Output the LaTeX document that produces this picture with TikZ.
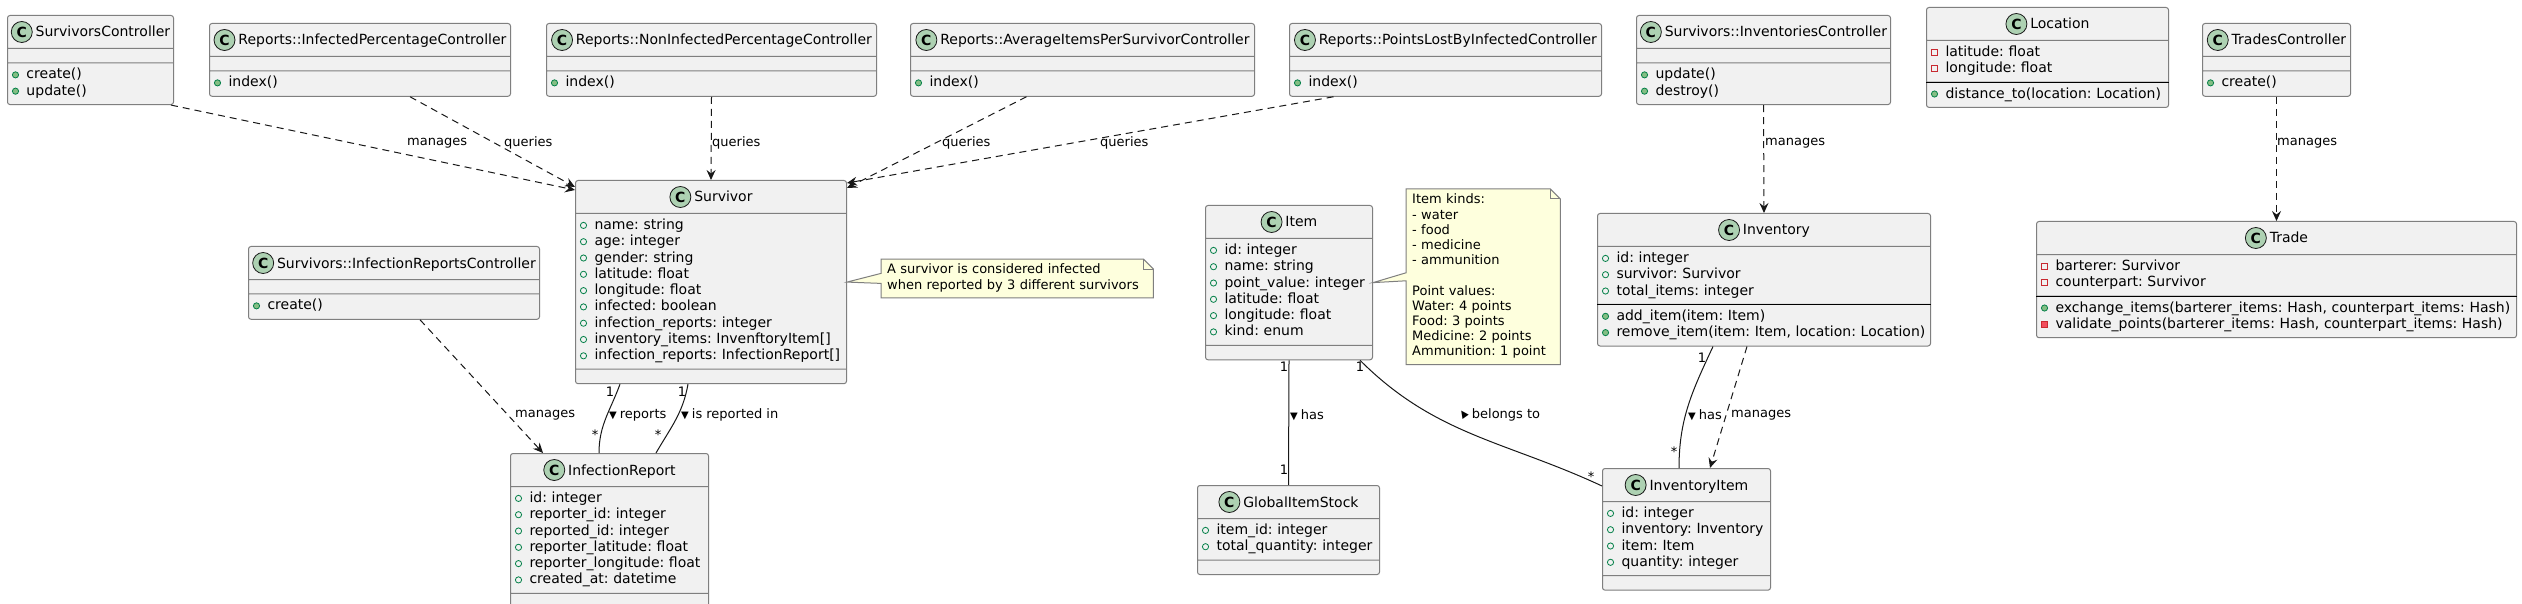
\documentclass[tikz,border=0pt]{standalone}
\usepackage{fontspec}
\usepackage{graphicx}
\setmainfont{DejaVu Sans}
\usepackage{tikz}
\usetikzlibrary{shapes.multipart, arrows.meta}
\frenchspacing

\definecolor{classfill}{HTML}{F1F1F1}
\definecolor{classline}{HTML}{7F7F7F}
\definecolor{linkline}{HTML}{181818}
\definecolor{spotfill}{HTML}{ADD1B2}
\definecolor{notefill}{HTML}{FEFFDD}
\definecolor{publine}{HTML}{038048}
\definecolor{pubfill}{HTML}{84BE84}
\definecolor{privline}{HTML}{C82930}
\definecolor{privfill}{HTML}{F24D5C}

% class icon and visibility marks
\newcommand{\classicon}{\tikz[baseline=6pt]{\filldraw[fill=spotfill, draw=linkline, line width=0.8pt] (0pt,11pt) circle (10.5pt); \pgftext[at={\pgfpoint{0pt}{11pt}}]{\fontsize{14}{14}\selectfont\bfseries C}}}
\newcommand{\classhead}[1]{\noindent\makebox[\hsize][c]{\classicon\kern3pt #1\rule[-7pt]{0pt}{24pt}}}
\newcommand{\pubfield}[1]{\noindent\strut\tikz[baseline=-4pt]{\path (-4pt,-4pt) rectangle (4pt,4pt); \draw[publine, line width=0.8pt] (0pt,0pt) circle (3.1pt);}\kern7pt\mbox{#1}}
\newcommand{\pubmethod}[1]{\noindent\strut\tikz[baseline=-4pt]{\path (-4pt,-4pt) rectangle (4pt,4pt); \filldraw[fill=pubfill, draw=publine, line width=0.8pt] (0pt,0pt) circle (3.1pt);}\kern7pt\mbox{#1}}
\newcommand{\privfield}[1]{\noindent\strut\tikz[baseline=-4pt]{\path (-4pt,-4pt) rectangle (4pt,4pt); \draw[privline, line width=0.8pt, sharp corners] (-2.9pt,-2.9pt) rectangle (2.9pt,2.9pt);}\kern7pt\mbox{#1}}
\newcommand{\privmethod}[1]{\noindent\strut\tikz[baseline=-4pt]{\path (-4pt,-4pt) rectangle (4pt,4pt); \filldraw[fill=privfill, draw=privline, line width=0.8pt, sharp corners] (-2.9pt,-2.9pt) rectangle (2.9pt,2.9pt);}\kern7pt\mbox{#1}}
\newcommand{\dirdown}{{\fontsize{10}{10}\selectfont ▼}\kern3pt}
\newcommand{\dirup}{\rotatebox{35}{\fontsize{10}{10}\selectfont ▲}\kern3pt}

\begin{document}
\begin{tikzpicture}[x=1pt, y=1pt]
        % Setup the styles for classes, notes and links
        \tikzset{classbox/.style={rectangle split,
                                  rectangle split parts=3,
                                  rectangle split empty part height=0pt,
                                  rectangle split empty part depth=0pt,
                                  draw=classline, line width=1pt,
                                  fill=classfill, rounded corners=2.5pt,
                                  anchor=north west, align=left,
                                  inner xsep=4pt, inner ysep=4pt,
                                  font=\fontsize{14}{16.3}\selectfont}}
        \tikzset{notetext/.style={anchor=north west, align=left,
                                  fill=notefill, inner xsep=6pt, inner ysep=4pt,
                                  font=\fontsize{13}{15.2}\selectfont}}
        \tikzset{noteline/.style={draw=classline, line width=1pt}}
        \tikzset{sepline/.style={draw=black, line width=1pt}}
        \tikzset{dep/.style={draw=linkline, line width=1pt,
                             dash pattern=on 7pt off 5pt,
                             -{Stealth[length=10pt, width=9pt, inset=3.5pt]}}}
        \tikzset{assoc/.style={draw=linkline, line width=1pt}}
        \tikzset{elabel/.style={anchor=west, inner sep=0pt,
                                font=\fontsize{13}{15}\selectfont}}
        \tikzset{mult/.style={inner sep=0pt, font=\fontsize{13}{15}\selectfont}}

        \fill[white] (0,0) rectangle (2522,-604);
        \useasboundingbox (0,0) rectangle (2522,-604);

        % Draw the controllers
        \node[classbox, text width=158pt] (survivorsctrl) at (7,-15)
            {\classhead{SurvivorsController}\nodepart{three}\pubmethod{create()}\\
             \pubmethod{update()}};
        \node[classbox, text width=293pt] (infectedpct) at (209,-23)
            {\classhead{Reports::InfectedPercentageController}\nodepart{three}\pubmethod{index()}};
        \node[classbox, text width=322pt] (noninfectedpct) at (546,-23)
            {\classhead{Reports::NonInfectedPercentageController}\nodepart{three}\pubmethod{index()}};
        \node[classbox, text width=336pt] (averageitems) at (910,-23)
            {\classhead{Reports::AverageItemsPerSurvivorController}\nodepart{three}\pubmethod{index()}};
        \node[classbox, text width=304pt] (pointslost) at (1289,-23)
            {\classhead{Reports::PointsLostByInfectedController}\nodepart{three}\pubmethod{index()}};
        \node[classbox, text width=246pt] (inventoriesctrl) at (1636,-15)
            {\classhead{Survivors::InventoriesController}\nodepart{three}\pubmethod{update()}\\
             \pubmethod{destroy()}};
        \node[classbox, text width=140pt] (tradesctrl) at (2202,-23)
            {\classhead{TradesController}\nodepart{three}\pubmethod{create()}};
        \node[classbox, text width=283pt] (infectionreportsctrl) at (248,-246)
            {\classhead{Survivors::InfectionReportsController}\nodepart{three}\pubmethod{create()}};

        % Draw the model classes
        \node[classbox, text width=234pt] (location) at (1926,-7)
            {\classhead{Location}\nodepart{two}\privfield{latitude: float}\\
             \privfield{longitude: float}\nodepart{three}\pubmethod{distance\_to(location: Location)}};
        \node[classbox, text width=263pt] (survivor) at (575,-180)
            {\classhead{Survivor}\nodepart{two}\pubfield{name: string}\\
             \pubfield{age: integer}\\
             \pubfield{gender: string}\\
             \pubfield{latitude: float}\\
             \pubfield{longitude: float}\\
             \pubfield{infected: boolean}\\
             \pubfield{infection\_reports: integer}\\
             \pubfield{inventory\_items: InvenftoryItem[]}\\
             \pubfield{infection\_reports: InfectionReport[]}};
        \node[classbox, text width=190pt] (infectionreport) at (510,-453)
            {\classhead{InfectionReport}\nodepart{two}\pubfield{id: integer}\\
             \pubfield{reporter\_id: integer}\\
             \pubfield{reported\_id: integer}\\
             \pubfield{reporter\_latitude: float}\\
             \pubfield{reporter\_longitude: float}\\
             \pubfield{created\_at: datetime}};
        \node[classbox, text width=159pt] (item) at (1205,-205)
            {\classhead{Item}\nodepart{two}\pubfield{id: integer}\\
             \pubfield{name: string}\\
             \pubfield{point\_value: integer}\\
             \pubfield{latitude: float}\\
             \pubfield{longitude: float}\\
             \pubfield{kind: enum}};
        \node[classbox, text width=174pt] (globalitemstock) at (1197,-485)
            {\classhead{GlobalItemStock}\nodepart{two}\pubfield{item\_id: integer}\\
             \pubfield{total\_quantity: integer}};
        \node[classbox, text width=325pt] (inventory) at (1597,-213)
            {\classhead{Inventory}\nodepart{two}\pubfield{id: integer}\\
             \pubfield{survivor: Survivor}\\
             \pubfield{total\_items: integer}\nodepart{three}\pubmethod{add\_item(item: Item)}\\
             \pubmethod{remove\_item(item: Item, location: Location)}};
        \node[classbox, text width=160pt] (inventoryitem) at (1602,-468)
            {\classhead{InventoryItem}\nodepart{two}\pubfield{id: integer}\\
             \pubfield{inventory: Inventory}\\
             \pubfield{item: Item}\\
             \pubfield{quantity: integer}};
        \node[classbox, text width=472pt] (trade) at (2036,-221)
            {\classhead{Trade}\nodepart{two}\privfield{barterer: Survivor}\\
             \privfield{counterpart: Survivor}\nodepart{three}\pubmethod{exchange\_items(barterer\_items: Hash, counterpart\_items: Hash)}\\
             \privmethod{validate\_points(barterer\_items: Hash, counterpart\_items: Hash)}};
        \draw[sepline] (location.two split west) -- (location.two split east);
        \draw[sepline] (inventory.two split west) -- (inventory.two split east);
        \draw[sepline] (trade.two split west) -- (trade.two split east);

        % Draw the notes
        \node[notetext, text width=260pt] (survivornote) at (881,-259)
            {\strut A survivor is considered infected\\
             \strut when reported by 3 different survivors};
        \fill[white] ([xshift=-10pt]survivornote.north east) -- (survivornote.north east)
            -- ([yshift=-10pt]survivornote.north east) -- cycle;
        \fill[notefill] ([yshift=5pt]survivornote.west) -- (survivor.east)
            -- ([yshift=-5pt]survivornote.west) -- cycle;
        \draw[noteline] ([yshift=5pt]survivornote.west) -- (survivornote.north west)
            -- ([xshift=-10pt]survivornote.north east) -- ([yshift=-10pt]survivornote.north east)
            -- (survivornote.south east) -- (survivornote.south west)
            -- ([yshift=-5pt]survivornote.west) -- (survivor.east) -- cycle;
        \draw[noteline] ([xshift=-10pt]survivornote.north east) |- ([yshift=-10pt]survivornote.north east);

        \node[notetext, text width=142pt] (itemnote) at (1406,-189)
            {\strut Item kinds:\\
             \strut - water\\
             \strut - food\\
             \strut - medicine\\
             \strut - ammunition\\
             \strut\\
             \strut Point values:\\
             \strut Water: 4 points\\
             \strut Food: 3 points\\
             \strut Medicine: 2 points\\
             \strut Ammunition: 1 point};
        \fill[white] ([xshift=-10pt]itemnote.north east) -- (itemnote.north east)
            -- ([yshift=-10pt]itemnote.north east) -- cycle;
        \fill[notefill] ([yshift=4pt]itemnote.west) -- (item.east)
            -- ([yshift=-4pt]itemnote.west) -- cycle;
        \draw[noteline] ([yshift=4pt]itemnote.west) -- (itemnote.north west)
            -- ([xshift=-10pt]itemnote.north east) -- ([yshift=-10pt]itemnote.north east)
            -- (itemnote.south east) -- (itemnote.south west)
            -- ([yshift=-4pt]itemnote.west) -- (item.east) -- cycle;
        \draw[noteline] ([xshift=-10pt]itemnote.north east) |- ([yshift=-10pt]itemnote.north east);

        % Connect the classes
        \draw[dep] ([xshift=-3pt]survivorsctrl.south east) -- ([yshift=-10pt]survivor.north west);
        \draw[dep] ([xshift=50pt]infectedpct.south) -- ([yshift=-7pt]survivor.north west);
        \draw[dep] (noninfectedpct.south) -- (survivor.north);
        \draw[dep] ([xshift=-56pt]averageitems.south) -- ([yshift=-8pt]survivor.north east);
        \draw[dep] ([xshift=-112pt]pointslost.south) -- ([yshift=-3pt]survivor.north east);
        \draw[dep] ([xshift=26pt]infectionreportsctrl.south) -- ([xshift=33pt]infectionreport.north west);
        \draw[dep] (inventoriesctrl.south) -- (inventory.north);
        \draw[dep] (tradesctrl.south) -- (trade.north);
        \draw[dep] ([xshift=150pt]inventory.south west) -- ([xshift=108pt]inventoryitem.north west);
        \draw[assoc] ([xshift=45pt]survivor.south west) to[out=-110, in=90] ([xshift=89pt]infectionreport.north west);
        \draw[assoc] ([xshift=113pt]survivor.south west) to[out=-100, in=60] ([xshift=146pt]infectionreport.north west);
        \draw[assoc] (item.south) -- (globalitemstock.north);
        \draw[assoc] ([xshift=-13pt]item.south east) to[out=-45, in=155] ([yshift=-18pt]inventoryitem.north west);
        \draw[assoc] ([xshift=116pt]inventory.south west) to[out=-115, in=90] ([xshift=77pt]inventoryitem.north west);

        % Link labels
        \node[elabel] (lblmanages1) at (407,-143) {manages};
        \node[elabel] (lblqueries1) at (504,-143) {queries};
        \node[elabel] (lblqueries2) at (712,-143) {queries};
        \node[elabel] (lblqueries3) at (942,-143) {queries};
        \node[elabel] (lblqueries4) at (1100,-143) {queries};
        \node[elabel] (lblmanages2) at (1765,-143) {manages};
        \node[elabel] (lblmanages3) at (2277,-143) {manages};
        \node[elabel] (lblmanages4) at (515,-415) {manages};
        \node[elabel] (lblreports) at (609,-415) {\dirdown reports};
        \node[elabel] (lblreported) at (681,-415) {\dirdown is reported in};
        \node[elabel] (lblhas1) at (1290,-415) {\dirdown has};
        \node[elabel] (lblbelongs) at (1458,-415) {\dirup belongs to};
        \node[elabel] (lblhas2) at (1688,-415) {\dirdown has};
        \node[elabel] (lblmanages5) at (1731,-415) {manages};

        % Multiplicities
        \node[mult] (multrep1) at (610,-392) {1};
        \node[mult] (multrep2) at (595,-435) {*};
        \node[mult] (multrepd1) at (682,-392) {1};
        \node[mult] (multrepd2) at (658,-435) {*};
        \node[mult] (multstock1) at (1284,-367) {1};
        \node[mult] (multstock2) at (1284,-470) {1};
        \node[mult] (multbel1) at (1360,-367) {1};
        \node[mult] (multbel2) at (1591,-477) {*};
        \node[mult] (multinv1) at (1702,-358) {1};
        \node[mult] (multinv2) at (1674,-452) {*};
\end{tikzpicture}
\end{document}
